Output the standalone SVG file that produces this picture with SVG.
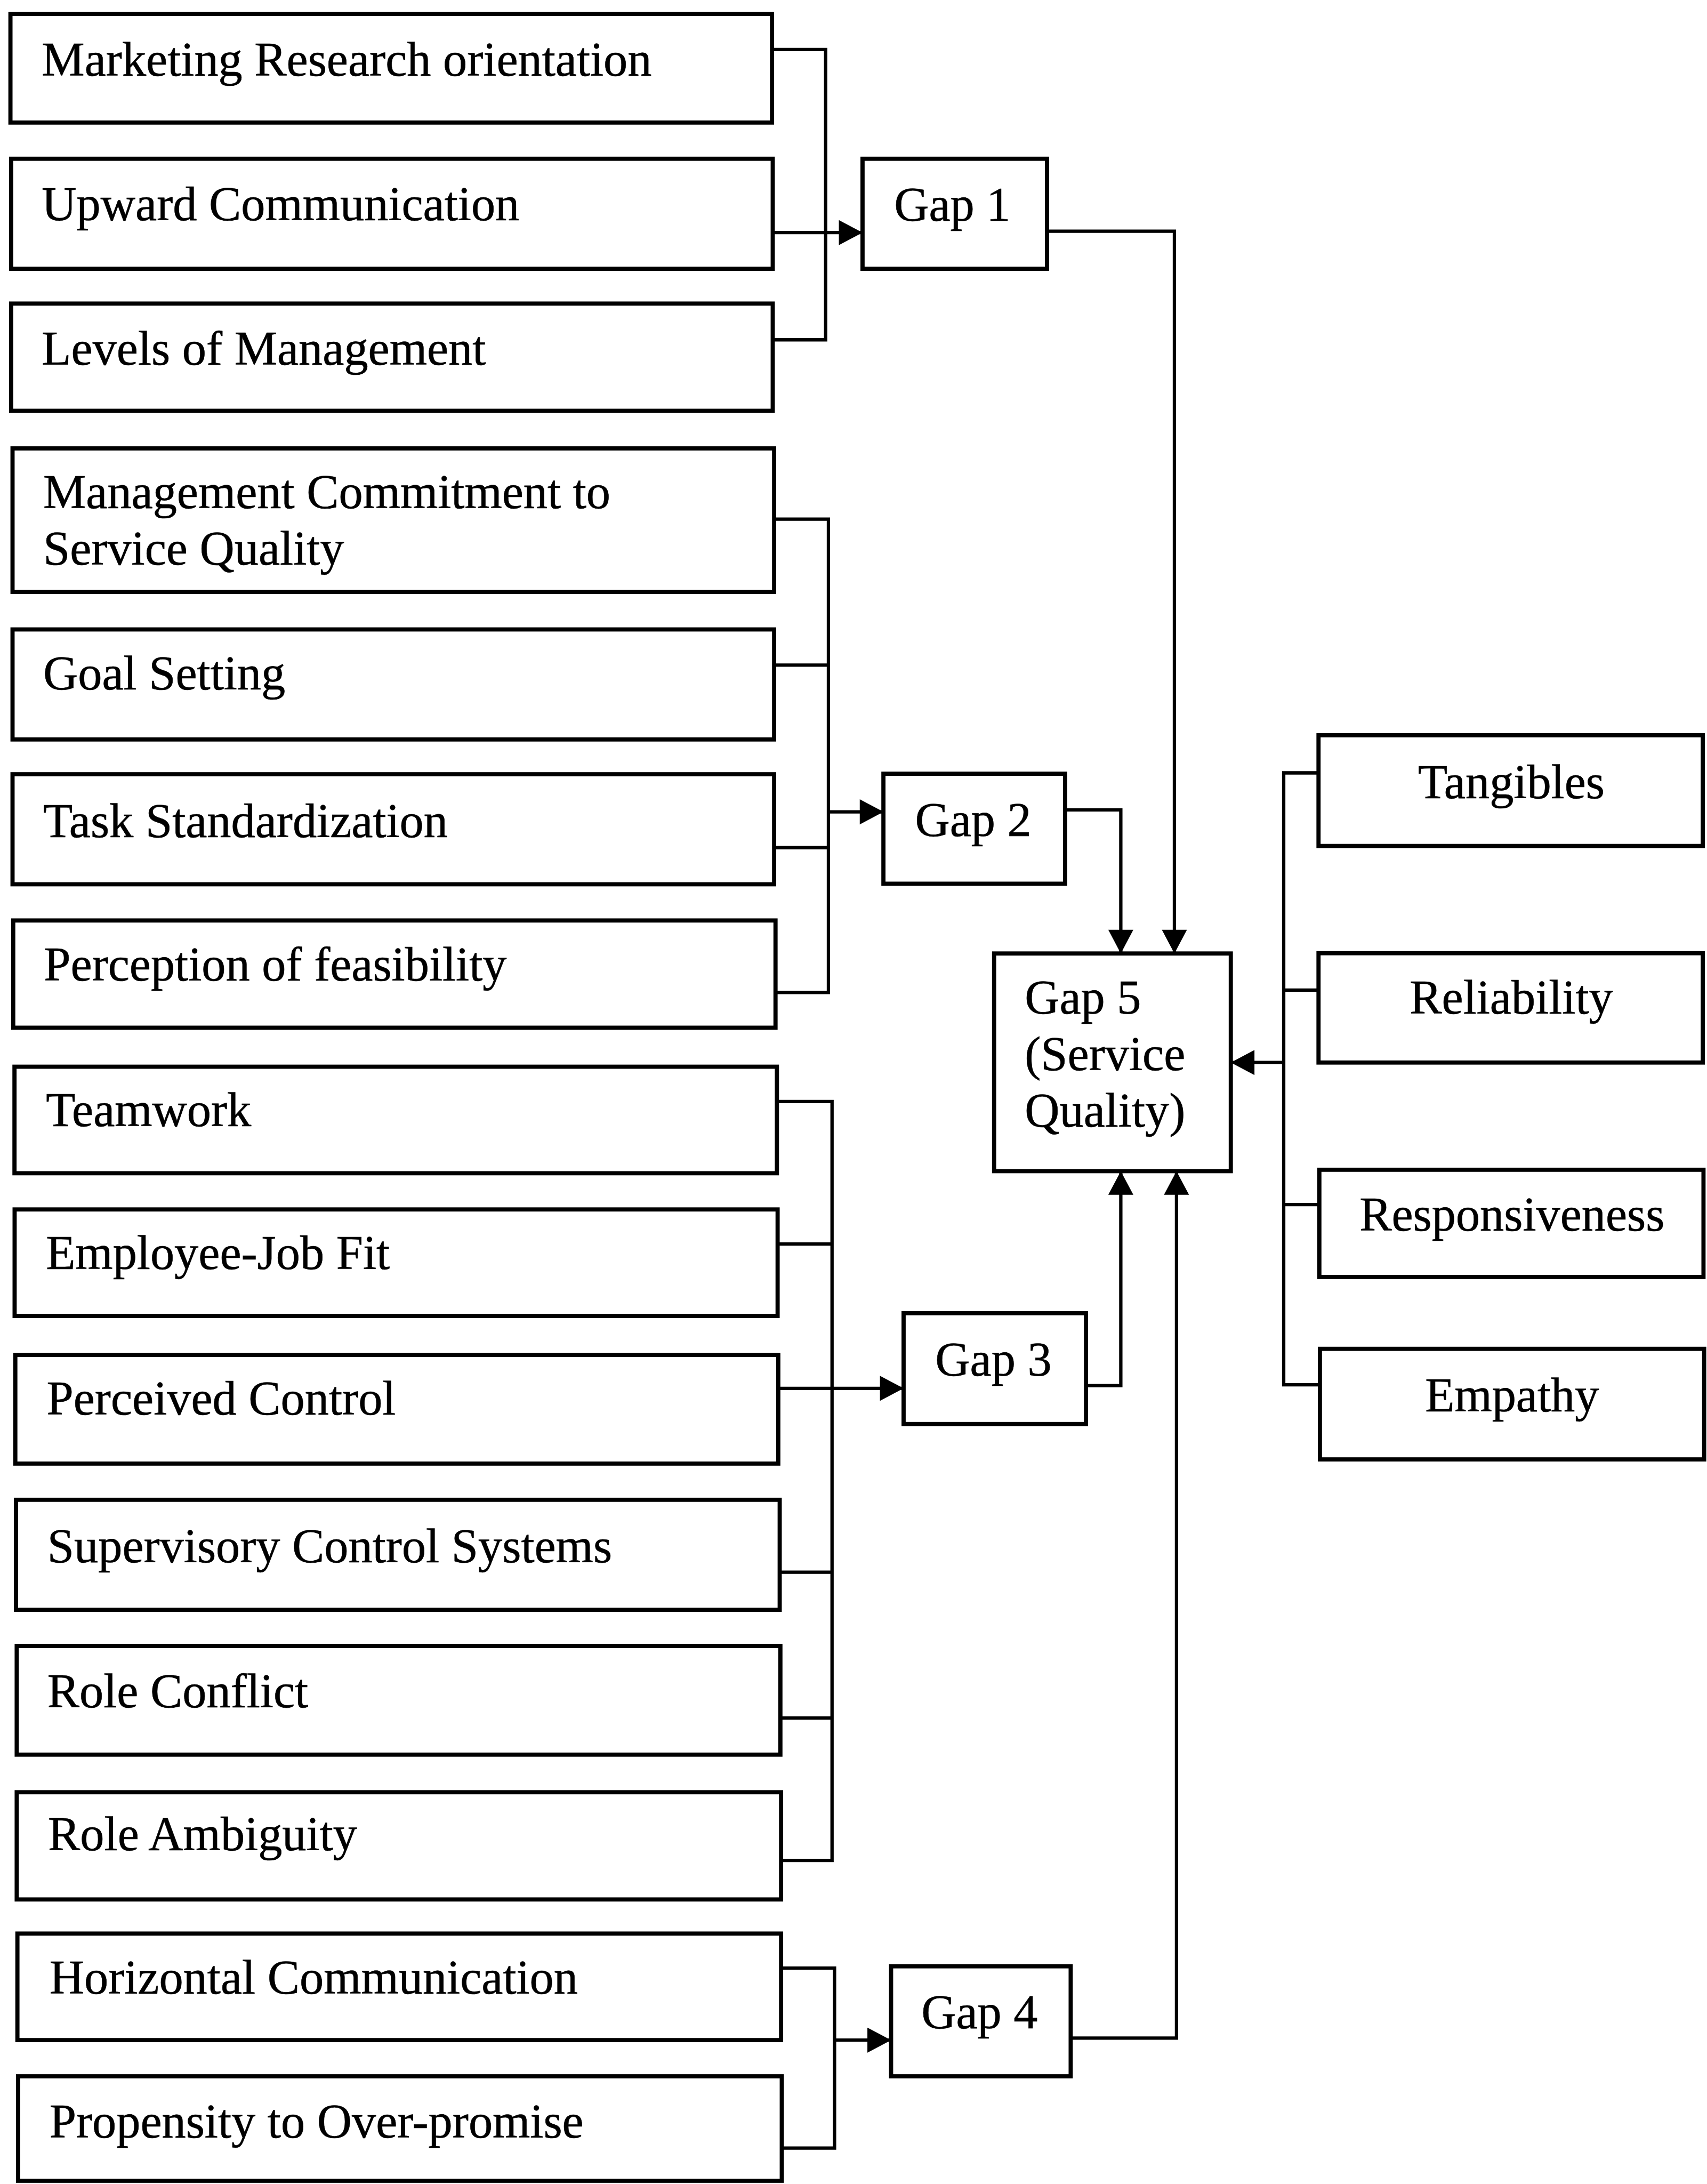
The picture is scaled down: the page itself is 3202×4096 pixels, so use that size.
<svg xmlns="http://www.w3.org/2000/svg" width="3202" height="4096" viewBox="0 0 3202 4096">
  <defs>
    <style>
      .box { fill: #fff; stroke: #000; stroke-width: 3; }
      .lbl { font-family: "Liberation Serif", "Times New Roman", serif; font-size: 34.6px; fill: #000; stroke: #000; stroke-width: 0.25; }
      .mid { text-anchor: middle; }
      .wire { fill: none; stroke: #000; stroke-width: 2.4; stroke-linejoin: miter; }
      .arr { marker-end: url(#head); }
    </style>
    <marker id="head" markerUnits="userSpaceOnUse" markerWidth="17" markerHeight="18" refX="17" refY="9" orient="auto" overflow="visible">
      <path d="M0,0 L17,9 L0,18 Z" fill="#000"/>
    </marker>
  </defs>
  <rect width="3202" height="4096" fill="#fff"/>

  <!-- drawing units: 1 unit = 2.6117 px -->
  <g transform="scale(2.6117)">

    <!-- connectors -->
    <g id="connectors">
      <!-- Gap 1 inputs -->
      <path class="wire" d="M554.5,35.6 H593 V244 H555"/>
      <path class="wire arr" d="M555,167 H619.5"/>
      <!-- Gap 2 inputs -->
      <path class="wire" d="M556,372.8 H595 V712.7 H557"/>
      <path class="wire" d="M556,477.6 H595"/>
      <path class="wire" d="M556,608.7 H595"/>
      <path class="wire arr" d="M595,583 H634.5"/>
      <!-- Gap 3 inputs -->
      <path class="wire" d="M558,791 H597.6 V1336 H561"/>
      <path class="wire" d="M558.5,893.3 H597.6"/>
      <path class="wire" d="M560,1129 H597.6"/>
      <path class="wire" d="M560.5,1233.7 H597.6"/>
      <path class="wire arr" d="M559,997 H649"/>
      <!-- Gap 4 inputs -->
      <path class="wire" d="M561,1413.3 H599.4 V1542.5 H561.5"/>
      <path class="wire arr" d="M599.4,1465 H640"/>
      <!-- Gaps 1-4 into Gap 5 -->
      <path class="wire arr" d="M752,166 H843.5 V684.7"/>
      <path class="wire arr" d="M765,581.6 H805 V684.7"/>
      <path class="wire arr" d="M780,995 H805 V841"/>
      <path class="wire arr" d="M769,1463.6 H845 V841"/>
      <!-- SERVQUAL dimensions into Gap 5 -->
      <path class="wire" d="M947,555 H922 V994.4 H948"/>
      <path class="wire" d="M947,711 H922"/>
      <path class="wire" d="M947.6,865 H922"/>
      <path class="wire arr" d="M922,763 H884"/>
    </g>

    <!-- Gap 1 antecedents -->
    <g id="marketing-research">
      <rect class="box" x="7.5" y="10" width="547" height="78"/>
      <text class="lbl" x="30" y="54.5">Marketing Research orientation</text>
    </g>
    <g id="upward-communication">
      <rect class="box" x="8" y="114" width="547" height="79"/>
      <text class="lbl" x="30" y="158">Upward Communication</text>
    </g>
    <g id="levels-of-management">
      <rect class="box" x="8" y="218" width="547" height="77"/>
      <text class="lbl" x="30" y="262">Levels of Management</text>
    </g>

    <!-- Gap 2 antecedents -->
    <g id="management-commitment">
      <rect class="box" x="9" y="322" width="547" height="103"/>
      <text class="lbl" x="31" y="364.8">Management Commitment to</text>
      <text class="lbl" x="31" y="405.4">Service Quality</text>
    </g>
    <g id="goal-setting">
      <rect class="box" x="9" y="452" width="547" height="79"/>
      <text class="lbl" x="31" y="495">Goal Setting</text>
    </g>
    <g id="task-standardization">
      <rect class="box" x="9" y="556" width="547" height="79"/>
      <text class="lbl" x="31" y="601">Task Standardization</text>
    </g>
    <g id="perception-of-feasibility">
      <rect class="box" x="9.5" y="661" width="547.5" height="77"/>
      <text class="lbl" x="31.5" y="704">Perception of feasibility</text>
    </g>

    <!-- Gap 3 antecedents -->
    <g id="teamwork">
      <rect class="box" x="10.4" y="766" width="547.6" height="76.5"/>
      <text class="lbl" x="33" y="808.5">Teamwork</text>
    </g>
    <g id="employee-job-fit">
      <rect class="box" x="10.5" y="868.5" width="548" height="76.5"/>
      <text class="lbl" x="33" y="911.3">Employee-Job Fit</text>
    </g>
    <g id="perceived-control">
      <rect class="box" x="11" y="973" width="548" height="78"/>
      <text class="lbl" x="33.5" y="1016">Perceived Control</text>
    </g>
    <g id="supervisory-control">
      <rect class="box" x="11.5" y="1077" width="548.5" height="79"/>
      <text class="lbl" x="34" y="1122">Supervisory Control Systems</text>
    </g>
    <g id="role-conflict">
      <rect class="box" x="12" y="1182" width="548.5" height="78"/>
      <text class="lbl" x="34" y="1226">Role Conflict</text>
    </g>
    <g id="role-ambiguity">
      <rect class="box" x="12" y="1287" width="549" height="77"/>
      <text class="lbl" x="34.5" y="1328.5">Role Ambiguity</text>
    </g>

    <!-- Gap 4 antecedents -->
    <g id="horizontal-communication">
      <rect class="box" x="12.5" y="1388.5" width="548.5" height="76.5"/>
      <text class="lbl" x="35.5" y="1431.6">Horizontal Communication</text>
    </g>
    <g id="propensity-to-overpromise">
      <rect class="box" x="13" y="1491" width="548.5" height="75"/>
      <text class="lbl" x="35.5" y="1535">Propensity to Over-promise</text>
    </g>

    <!-- gaps -->
    <g id="gap1">
      <rect class="box" x="619.5" y="114" width="132.5" height="79"/>
      <text class="lbl mid" x="684" y="158.5">Gap 1</text>
    </g>
    <g id="gap2">
      <rect class="box" x="634.5" y="555.6" width="130.5" height="79"/>
      <text class="lbl mid" x="699" y="600.5">Gap 2</text>
    </g>
    <g id="gap3">
      <rect class="box" x="649" y="943" width="131" height="79.6"/>
      <text class="lbl mid" x="713.5" y="988">Gap 3</text>
    </g>
    <g id="gap4">
      <rect class="box" x="640" y="1412" width="129" height="79"/>
      <text class="lbl mid" x="703.5" y="1456.6">Gap 4</text>
    </g>
    <g id="gap5">
      <rect class="box" x="714" y="684.7" width="170" height="156.3"/>
      <text class="lbl" x="736" y="728">Gap 5</text>
      <text class="lbl" x="736" y="768.5">(Service</text>
      <text class="lbl" x="736" y="809">Quality)</text>
    </g>

    <!-- service quality dimensions -->
    <g id="tangibles">
      <rect class="box" x="947" y="528" width="276" height="79.5"/>
      <text class="lbl mid" x="1085.5" y="573">Tangibles</text>
    </g>
    <g id="reliability">
      <rect class="box" x="947" y="684.5" width="276" height="78.5"/>
      <text class="lbl mid" x="1085.5" y="728">Reliability</text>
    </g>
    <g id="responsiveness">
      <rect class="box" x="947.6" y="840" width="275.9" height="77"/>
      <text class="lbl mid" x="1086" y="883.6">Responsiveness</text>
    </g>
    <g id="empathy">
      <rect class="box" x="948" y="968.6" width="276" height="79.4"/>
      <text class="lbl mid" x="1086" y="1013.5">Empathy</text>
    </g>
  </g>
</svg>
